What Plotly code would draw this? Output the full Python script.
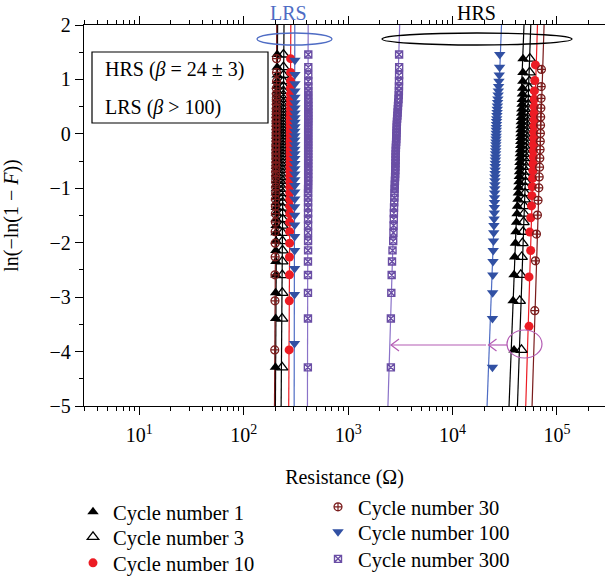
import math
import plotly.graph_objects as go

# ---------------- data ----------------
# Weibull plotting positions ln(-ln(1-F))
lnln_51 = [-4.290, -3.393, -2.921, -2.594, -2.344, -2.141, -1.969, -1.818, -1.685, -1.565,
           -1.455, -1.354, -1.259, -1.172, -1.088, -1.010, -0.934, -0.862, -0.794, -0.727,
           -0.663, -0.601, -0.540, -0.481, -0.423, -0.367, -0.311, -0.256, -0.202, -0.148,
           -0.095, -0.042, 0.011, 0.064, 0.117, 0.170, 0.225, 0.279, 0.335, 0.392,
           0.451, 0.511, 0.574, 0.641, 0.712, 0.788, 0.872, 0.967, 1.081, 1.226, 1.458]
lnln_37 = [-3.969, -3.068, -2.590, -2.262, -2.008, -1.799, -1.623, -1.467, -1.329, -1.203,
           -1.088, -0.980, -0.880, -0.785, -0.694, -0.608, -0.525, -0.445, -0.366, -0.290,
           -0.215, -0.142, -0.068, 0.004, 0.077, 0.150, 0.224, 0.300, 0.377, 0.458,
           0.542, 0.632, 0.730, 0.839, 0.966, 1.129, 1.381]
lnln_33 = [-3.854, -2.951, -2.473, -2.141, -1.886, -1.676, -1.496, -1.339, -1.198, -1.070,
           -0.951, -0.841, -0.737, -0.639, -0.545, -0.454, -0.366, -0.281, -0.198, -0.115,
           -0.034, 0.048, 0.130, 0.212, 0.297, 0.384, 0.474, 0.570, 0.673, 0.789,
           0.922, 1.091, 1.352]
lnln_24 = [-3.537, -2.628, -2.143, -1.805, -1.542, -1.324, -1.136, -0.970, -0.819, -0.680,
           -0.550, -0.426, -0.308, -0.193, -0.081, 0.031, 0.143, 0.257, 0.374, 0.499,
           0.635, 0.789, 0.980, 1.267]
lnln_18 = [-3.249, -2.333, -1.841, -1.493, -1.221, -0.992, -0.792, -0.612, -0.446, -0.289,
           -0.138, 0.010, 0.159, 0.311, 0.473, 0.652, 0.868, 1.184]

cycle_names = ["Cycle number 1", "Cycle number 3", "Cycle number 10",
               "Cycle number 30", "Cycle number 100", "Cycle number 300"]

# LRS resistances (Ohm)
lrs_res_c1 = [201, 202, 202, 203, 203, 203, 204, 204, 204, 204,
              205, 205, 205, 205, 205, 205, 206, 206, 206, 206,
              206, 206, 206, 207, 207, 207, 207, 207, 207, 207,
              207, 207, 208, 208, 208, 208, 208, 208, 208, 208,
              208, 208, 209, 209, 209, 209, 209, 209, 209, 209, 209]
lrs_res_c3 = [233, 233, 234, 234, 234, 235, 235, 235, 235, 236,
              236, 236, 236, 236, 237, 237, 237, 237, 237, 237,
              237, 238, 238, 238, 238, 238, 238, 238, 238, 238,
              239, 239, 239, 239, 239, 239, 239, 239, 239, 239,
              240, 240, 240, 240, 240, 240, 240, 240, 240, 240, 240]
lrs_res_c10 = [272, 273, 274, 274, 275, 275, 275, 276, 276, 276,
               276, 277, 277, 277, 277, 277, 278, 278, 278, 278,
               278, 278, 279, 279, 279, 279, 279, 279, 280, 280,
               280, 280, 280, 280, 281, 281, 281]
lrs_res_c30 = [198, 199, 199, 200, 200, 200, 201, 201, 201, 201,
               202, 202, 202, 202, 202, 203, 203, 203, 203, 203,
               203, 204, 204, 204, 204, 204, 204, 204, 205, 205,
               205, 205, 205, 205, 206, 206, 206]
lrs_res_c100 = [306, 306, 307, 307, 307, 307, 307, 307, 308, 308,
                308, 308, 308, 308, 308, 308, 308, 308, 308, 308,
                308, 308, 309, 309, 309, 309, 309, 309, 309, 309,
                309, 309, 309]
lrs_res_c300 = [411, 412, 412, 412, 412, 413, 413, 413, 413, 413,
                413, 413, 413, 413, 413, 413, 414, 414, 414, 414,
                414, 414, 414, 414, 414, 414, 414, 414, 414, 414,
                414, 414, 414, 414, 414, 414, 415, 415, 415, 415,
                415, 415, 415, 415, 415, 415, 415, 415, 415, 415, 415]

# HRS resistances (Ohm)
hrs_res_c1 = [38800, 38000, 38800, 39300, 40000, 40500, 41000, 41500, 41900, 42300,
              42700, 43000, 43300, 43600, 43800, 44000, 44200, 44400, 44600, 44800,
              44900, 45000, 45100, 45200, 45300, 45400, 45500, 45700, 45900, 46100,
              46300, 46500, 46700, 46900, 47100, 47200, 47300]
hrs_res_c3 = [45700, 44000, 45000, 45900, 46700, 47300, 47800, 48300, 48700, 49100,
              49500, 49900, 50200, 50500, 50800, 51000, 51200, 51400, 51600, 51800,
              51900, 52000, 52100, 52200, 52300, 52400, 52500, 52700, 52900, 53100,
              53300, 53500, 53800, 54100, 54400, 54700, 54900]
hrs_res_c10 = [54000, 54000, 56000, 54900, 56100, 57000, 57500, 58000, 58400, 58800,
               59100, 59300, 59500, 59700, 59900, 60000, 60100, 60300, 60400, 60500,
               60600, 60800, 61300, 62200]
hrs_res_c30 = [61300, 62200, 63600, 65000, 65900, 67000, 67600, 68100, 68500, 68900,
               69200, 69400, 69600, 69800, 70100, 70400, 70700, 71000]
hrs_res_c100 = [24100, 24100, 24200, 24300, 24400, 24500, 24650, 24800, 24900, 25000,
                25100, 25150, 25200, 25250, 25300, 25350, 25400, 25450, 25500, 25550,
                25600, 25650, 25700, 25750, 25800, 25850, 25900, 25950, 26000, 26050,
                26100, 26150, 26200, 26250, 26300, 26350, 26400, 26500, 26600, 26700,
                26800, 26900, 27000, 27150, 27300, 27450, 27600, 27800, 28000, 28200, 28300]
hrs_res_c300 = [2565, 2565, 2590, 2610, 2630, 2660, 2700, 2715, 2725, 2735,
                2742, 2750, 2760, 2770, 2778, 2785, 2795, 2805, 2815, 2822,
                2830, 2835, 2840, 2845, 2848, 2850, 2858, 2865, 2872, 2880,
                2887, 2895, 2902, 2910, 2917, 2924, 2930, 2945, 2960, 2975,
                2990, 3000, 3015, 3035, 3050, 3060, 3065, 3070, 3075, 3080, 3075]

# Weibull fit parameters (scale eta in Ohm, shape beta) per cycle
lrs_fit_eta = [208.1, 238.6, 278.6, 204.1, 307.0, 412.0]
lrs_fit_beta = [144, 110, 151, 141, 500, 450]
hrs_fit_eta = [43980, 51590, 60410, 69760, 26860, 2893]
hrs_fit_beta = [21.2, 23.8, 27.1, 26.4, 22.0, 27.0]
fit_y_span = [-5, 2]

x_tick_values = [10, 100, 1000, 10000, 100000]
x_tick_text = ["10<sup>1</sup>", "10<sup>2</sup>", "10<sup>3</sup>", "10<sup>4</sup>", "10<sup>5</sup>"]

# ---------------- styling ----------------
FONT = "Liberation Serif, Times New Roman, serif"
BLACK = "#000000"
RED = "#ec1c24"
DARKRED = "#7a1c1c"
BLUE = "#3150a3"
BLUE_LINE = "#4e6cc4"
PURPLE = "#6a4ea5"
PURPLE_LINE = "#8a72c8"
MAGENTA = "#b45cb4"

lrs_x = [lrs_res_c1, lrs_res_c3, lrs_res_c10, lrs_res_c30, lrs_res_c100, lrs_res_c300]
hrs_x = [hrs_res_c1, hrs_res_c3, hrs_res_c10, hrs_res_c30, hrs_res_c100, hrs_res_c300]
lrs_y = [lnln_51, lnln_51, lnln_37, lnln_37, lnln_33, lnln_51]
hrs_y = [lnln_37, lnln_37, lnln_24, lnln_18, lnln_51, lnln_51]

markers = [
    dict(symbol="triangle-up", size=10, color=BLACK),
    dict(symbol="triangle-up-open", size=10, color=BLACK, line=dict(width=1.3, color=BLACK)),
    dict(symbol="circle", size=9, color=RED),
    dict(symbol="circle-cross-open", size=8, color=DARKRED, line=dict(width=1.2, color=DARKRED)),
    dict(symbol="triangle-down", size=10, color=BLUE),
    dict(symbol="square-x-open", size=7, color=PURPLE, line=dict(width=1.4, color=PURPLE)),
]
line_colors = [BLACK, BLACK, RED, DARKRED, BLUE_LINE, PURPLE_LINE]

fig = go.Figure()

# Weibull fit lines
for i in range(6):
    for eta, beta in ((lrs_fit_eta[i], lrs_fit_beta[i]), (hrs_fit_eta[i], hrs_fit_beta[i])):
        fig.add_trace(go.Scatter(
            x=[eta * math.exp(v / beta) for v in fit_y_span], y=fit_y_span,
            mode="lines", line=dict(color=line_colors[i], width=1.2),
            showlegend=False, hoverinfo="skip"))

# data points, each with its own legend box
legend_ids = ["legend", "legend2", "legend3", "legend4", "legend5", "legend6"]
for i in range(6):
    fig.add_trace(go.Scatter(
        x=lrs_x[i] + hrs_x[i], y=lrs_y[i] + hrs_y[i],
        mode="markers", name=cycle_names[i], marker=markers[i],
        legend=legend_ids[i]))

# ---------------- layout ----------------
W, H = 605, 580
L, T, B = 84, 25, 174
PW, PH = W - L, H - T - B


def px(sx):
    """window x pixel -> paper x"""
    return (sx - L) / PW


def py(sy):
    """window y pixel -> paper y"""
    return (H - B - sy) / PH


shapes = [
    dict(type="circle", xref="paper", yref="paper", x0=px(257), x1=px(332), y0=py(45), y1=py(33),
         line=dict(color=BLUE_LINE, width=1.3)),
    dict(type="circle", xref="paper", yref="paper", x0=px(382), x1=px(572), y0=py(45), y1=py(33),
         line=dict(color=BLACK, width=1.3)),
    dict(type="circle", xref="paper", yref="paper", x0=px(507), x1=px(542), y0=py(358), y1=py(330),
         line=dict(color=MAGENTA, width=1.2)),
    dict(type="rect", xref="paper", yref="paper", x0=px(92), x1=px(268), y0=py(123), y1=py(52),
         line=dict(color=BLACK, width=1.2)),
]
for tail, tip in ((507, 488.5), (486, 391)):
    shapes.append(dict(type="line", xref="paper", yref="paper", x0=px(tail), x1=px(tip),
                       y0=py(345), y1=py(345), line=dict(color=MAGENTA, width=1.2)))
    shapes.append(dict(type="path", xref="paper", yref="paper",
                       path=f"M {px(tip + 8)},{py(339)} L {px(tip)},{py(345)} L {px(tip + 8)},{py(351)}",
                       line=dict(color=MAGENTA, width=1.2)))

annotations = [
    dict(text="LRS", xref="paper", yref="paper", x=px(288), y=py(13), xanchor="center",
         yanchor="middle", showarrow=False, font=dict(family=FONT, size=20, color=BLUE_LINE)),
    dict(text="HRS", xref="paper", yref="paper", x=px(476), y=py(13), xanchor="center",
         yanchor="middle", showarrow=False, font=dict(family=FONT, size=20, color=BLACK)),
    dict(text="HRS (<i>β</i> = 24 ± 3)", xref="paper", yref="paper", x=px(103), y=py(69),
         xanchor="left", yanchor="middle", showarrow=False,
         font=dict(family=FONT, size=20, color=BLACK)),
    dict(text="LRS (<i>β</i> &gt; 100)", xref="paper", yref="paper", x=px(103), y=py(107),
         xanchor="left", yanchor="middle", showarrow=False,
         font=dict(family=FONT, size=20, color=BLACK)),
]

axis_common = dict(showline=True, linecolor=BLACK, linewidth=1.3, ticks="outside",
                   tickcolor=BLACK, tickwidth=1.3, ticklen=8, showgrid=False, zeroline=False,
                   automargin=False, tickfont=dict(family=FONT, size=20, color=BLACK))

minor_x = [m * 10 ** k for k in range(0, 6) for m in range(2, 10)]

layout_legends = {}
legend_rows = [(93, 512), (93, 537), (93, 563), (338, 507), (338, 532), (338, 559)]
for lid, (sx, sy) in zip(legend_ids, legend_rows):
    layout_legends[lid] = dict(x=px(sx - 20), y=py(sy), xanchor="left", yanchor="middle",
                               orientation="v", bgcolor="rgba(0,0,0,0)",
                               font=dict(family=FONT, size=20.5, color=BLACK))

fig.update_layout(
    width=W, height=H,
    margin=dict(l=L, r=W - L - PW, t=T, b=B, pad=0, autoexpand=False),
    paper_bgcolor="white", plot_bgcolor="white",
    font=dict(family=FONT, size=20, color=BLACK),
    xaxis=dict(type="log", range=[math.log10(2.95), 5.46], mirror="ticks",
               tickmode="array", tickvals=x_tick_values, ticktext=x_tick_text,
               ticklabelstandoff=3,
               minor=dict(tickmode="array", tickvals=minor_x, ticks="outside", ticklen=4,
                          tickwidth=1, tickcolor=BLACK),
               title=dict(text="Resistance (Ω)", font=dict(family=FONT, size=20), standoff=24),
               **axis_common),
    yaxis=dict(range=[-5, 2], dtick=1, tick0=0,
               minor=dict(dtick=0.5, ticks="outside", ticklen=4, tickwidth=1, tickcolor=BLACK),
               title=dict(text="ln(−ln(1 − <i>F</i>))", font=dict(family=FONT, size=20), standoff=25),
               **axis_common),
    shapes=shapes,
    annotations=annotations,
    **layout_legends,
)

# remove the browser's default page margin so the figure fills the window exactly
fig.write_html("out.html", config={"displayModeBar": False},
               post_script="document.body.style.margin='0px';")
